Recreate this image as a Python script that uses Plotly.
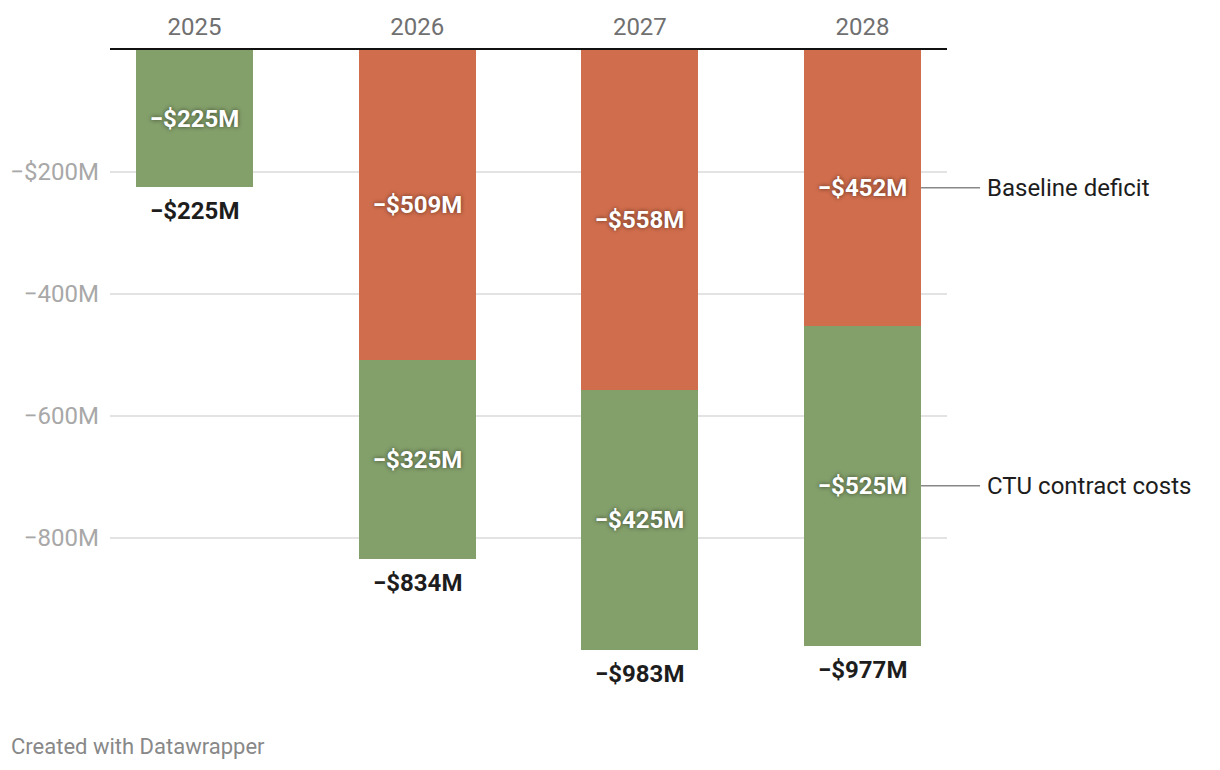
import plotly.graph_objects as go

# ---- data ----
years = ["2025", "2026", "2027", "2028"]
baseline = [None, -509, -558, -452]
ctu = [-225, -325, -425, -525]
totals = [-225, -834, -983, -977]
series_names = ["Baseline deficit", "CTU contract costs"]
ytick_vals = [-200, -400, -600, -800]
ytick_text = ["−$200M", "−400M", "−600M", "−800M"]
footer = "Created with Datawrapper"

# ---- style ----
ORANGE = "#D06D4C"
GREEN = "#839F6A"
FONT = "Roboto"
OFF = 8  # page body margin
W, H = 1220 - 2 * OFF, 770 - 2 * OFF
ML, MT = 110 - OFF, 50 - OFF
PLOT_W, PLOT_H = 837, 610
MR = W - ML - PLOT_W
MB = H - MT - PLOT_H
BAR_W = 0.525
X_RANGE = [-0.379, 3.379]
Y_RANGE = [-1000, 0]
SHADOW = "0px 0px 4px rgba(0,0,0,0.55)"


def fmt(v):
    return "" if v is None else f"−${abs(v)}M"


fig = go.Figure()
for name, vals, col in [(series_names[0], baseline, ORANGE), (series_names[1], ctu, GREEN)]:
    fig.add_bar(
        x=years, y=vals, name=name, marker=dict(color=col, line=dict(width=0)),
        width=BAR_W, text=[fmt(v) for v in vals], textposition="inside",
        insidetextanchor="middle", constraintext="none", textangle=0,
        textfont=dict(family=FONT, size=24, color="white", weight="bold", shadow=SHADOW),
        hoverinfo="skip",
    )

# totals under bars
for i, t in enumerate(totals):
    fig.add_annotation(x=i, y=t, xref="x", yref="y", text=fmt(t), showarrow=False,
                       yanchor="middle", yshift=-24,
                       font=dict(family=FONT, size=24, color="#1d1d1d", weight="bold"))

# right-side labels for the last bar
last = len(years) - 1
mids = [baseline[last] / 2, baseline[last] + ctu[last] / 2]
x_edge = (last + BAR_W / 2 - X_RANGE[0]) / (X_RANGE[1] - X_RANGE[0])
line_len = 59 / PLOT_W
gap = 5 / PLOT_W
for name, m in zip(series_names, mids):
    fig.add_shape(type="line", xref="paper", yref="y", x0=x_edge, x1=x_edge + line_len,
                  y0=m, y1=m, line=dict(color="#888888", width=1.5))
    fig.add_annotation(xref="paper", yref="y", x=x_edge + line_len + gap, y=m, text=name,
                       showarrow=False, xanchor="left", yanchor="middle",
                       font=dict(family=FONT, size=24, color="#1d1d1d"))

fig.add_annotation(xref="paper", yref="paper", x=(9 - OFF - ML) / PLOT_W,
                   y=-(746 - OFF - (H - MB)) / PLOT_H,
                   text=footer, showarrow=False, xanchor="left", yanchor="middle",
                   font=dict(family=FONT, size=22, color="#888888"))

fig.update_layout(
    width=W, height=H, margin=dict(l=ML, r=MR, t=MT, b=MB, autoexpand=False),
    barmode="relative", bargap=0, showlegend=False,
    paper_bgcolor="white", plot_bgcolor="white",
    font=dict(family=FONT),
    xaxis=dict(side="top", type="category", range=X_RANGE, showline=True, linecolor="#111111",
               linewidth=2, ticks="", showgrid=False, ticklabelstandoff=3, automargin=False,
               tickfont=dict(family=FONT, size=24, color="#707070"), fixedrange=True),
    yaxis=dict(range=Y_RANGE, tickvals=ytick_vals, ticktext=ytick_text, showgrid=True,
               gridcolor="#e3e3e3", gridwidth=1.5, zeroline=False, showline=False, ticks="",
               ticklabelstandoff=10, automargin=False,
               tickfont=dict(family=FONT, size=24, color="#a8a8a8"),
               fixedrange=True),
)

fig.write_html("out.html", config={"displayModeBar": False})
